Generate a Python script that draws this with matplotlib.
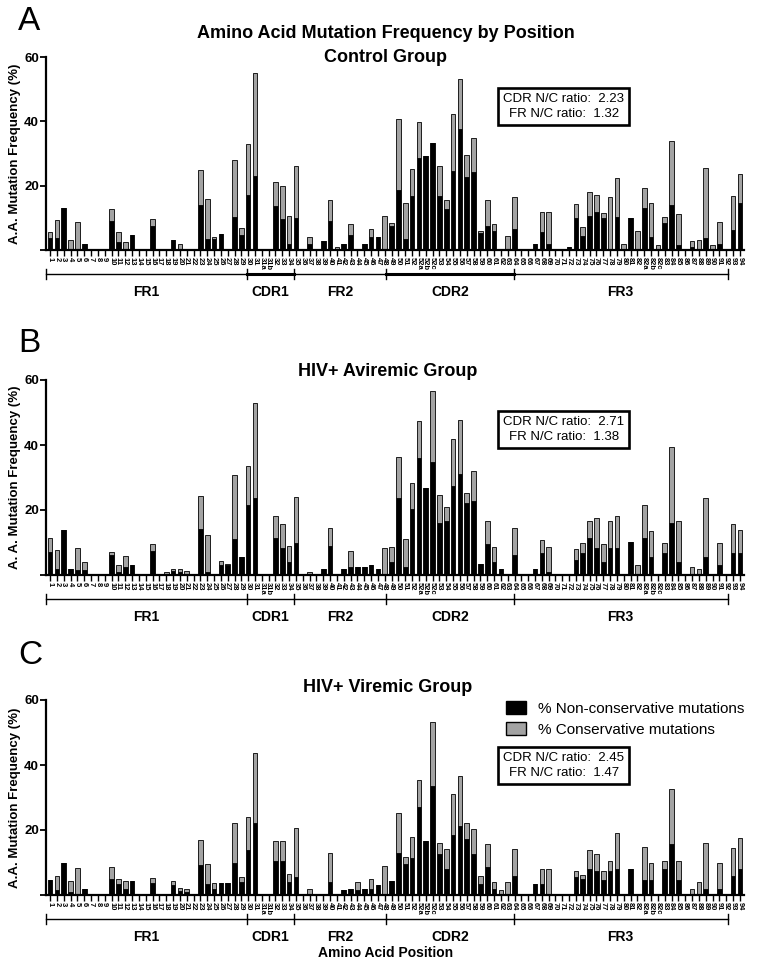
import matplotlib
matplotlib.use("Agg")
import matplotlib.pyplot as plt
from matplotlib.patches import Patch
from matplotlib.transforms import blended_transform_factory
import numpy as np

plt.rcParams['font.family'] = ['Liberation Sans', 'DejaVu Sans']

W, H = 759, 969

# Kabat positions along the x axis
positions = ([str(i) for i in range(1, 32)] + ['31a', '31b']
	+ [str(i) for i in range(32, 53)] + ['52a', '52b', '52c']
	+ [str(i) for i in range(53, 83)] + ['82a', '82b', '82c']
	+ [str(i) for i in range(83, 95)])

regions = ['FR1', 'CDR1', 'FR2', 'CDR2', 'FR3']

# % non-conservative (black) and % conservative (grey) mutations
control_nc = [3.6, 3.8, 13.2, 0, 0, 2.0, 0, 0, 0, 9.1,
	2.6, 0, 4.6, 0, 0, 7.6, 0, 0, 3.0, 0,
	0, 0, 14.0, 3.3, 3.3, 5.0, 0, 10.4, 4.7, 17.0,
	23.0, 0, 0, 13.6, 9.7, 1.8, 10.0, 0, 1.8, 0,
	2.9, 9.0, 0, 2.0, 4.7, 0, 1.8, 3.9, 3.9, 0,
	7.4, 18.7, 3.4, 16.8, 28.7, 29.1, 33.2, 16.8, 12.6, 24.6,
	37.6, 22.8, 24.3, 5.2, 7.4, 6.0, 0, 0, 6.6, 0,
	0, 1.9, 5.6, 1.9, 0, 0, 1.0, 10.0, 4.2, 10.7,
	11.9, 9.9, 0, 10.4, 0, 9.9, 0, 13.0, 4.0, 0,
	8.4, 13.9, 1.7, 0, 0.9, 0, 3.8, 0, 2.0, 0,
	6.1, 14.5]
control_c = [2.1, 5.5, 0, 3.0, 8.6, 0, 0, 0, 0, 3.5,
	2.9, 2.6, 0, 0, 0, 2.0, 0, 0, 0, 2.0,
	0, 0, 11.0, 12.7, 0.7, 0, 0, 17.6, 2.0, 16.0,
	32.0, 0, 0, 7.6, 10.2, 8.7, 16.0, 0, 2.1, 0,
	0, 6.4, 1.0, 0, 3.5, 0, 0, 2.7, 0, 10.5,
	0.9, 22.1, 11.2, 8.5, 11.1, 0, 0, 9.2, 2.8, 17.7,
	15.5, 6.8, 10.5, 0.7, 8.2, 2.0, 0, 4.5, 9.9, 0,
	0, 0, 6.1, 9.8, 0, 0, 0, 4.2, 2.8, 7.4,
	5.2, 1.6, 16.5, 11.9, 2.0, 0, 5.8, 6.3, 10.7, 1.6,
	2.0, 20.0, 9.5, 0, 1.9, 3.1, 21.6, 1.7, 6.6, 0,
	10.7, 9.0]

aviremic_nc = [7.0, 2.0, 13.7, 2.0, 1.5, 1.5, 0, 0, 0, 6.2,
	1.0, 2.5, 3.0, 0, 0, 7.5, 0, 0, 1.2, 1.0,
	0, 0, 14.1, 1.0, 0, 3.0, 3.2, 11.1, 5.5, 21.4,
	23.8, 0, 0, 11.5, 8.4, 4.0, 9.7, 0, 0, 0,
	1.7, 8.9, 0, 2.0, 2.5, 2.5, 2.5, 3.0, 2.0, 0,
	4.0, 23.8, 2.5, 20.2, 35.9, 26.7, 34.9, 16.1, 16.6, 27.5,
	31.1, 22.3, 22.8, 3.5, 9.4, 4.0, 2.0, 0, 6.2, 0,
	0, 2.0, 6.7, 1.0, 0, 0, 0, 4.5, 6.7, 11.5,
	8.2, 4.0, 8.2, 8.4, 0, 10.3, 0, 11.5, 5.6, 0,
	6.7, 16.1, 4.0, 0, 0, 0, 5.4, 0, 3.0, 0,
	6.7, 6.9]
aviremic_c = [4.5, 5.7, 0, 0, 6.7, 2.5, 0, 0, 0, 1.0,
	2.0, 3.3, 0, 0, 0, 2.1, 0, 1.0, 0.8, 0.8,
	1.3, 0, 10.2, 11.3, 0, 1.3, 0.3, 19.6, 0, 12.1,
	29.2, 0, 0, 6.7, 7.2, 4.8, 14.2, 0, 1.0, 0,
	0, 5.5, 0, 0, 5.0, 0, 0, 0, 0, 8.2,
	4.7, 12.4, 8.6, 8.2, 11.5, 0, 21.7, 8.5, 4.4, 14.4,
	16.6, 3.0, 9.3, 0, 7.2, 4.7, 0, 0, 8.4, 0,
	0, 0, 4.1, 7.7, 0, 0, 0, 3.4, 3.0, 5.1,
	9.2, 5.4, 8.4, 9.8, 0, 0, 3.0, 10.0, 7.9, 0,
	3.0, 23.2, 12.6, 0, 2.5, 2.0, 18.2, 0, 7.0, 0,
	9.0, 6.9]

viremic_nc = [4.5, 1.5, 9.7, 1.0, 0, 2.0, 0, 0, 0, 5.0,
	3.5, 2.0, 4.3, 0, 0, 3.8, 0, 0, 3.0, 1.2,
	1.0, 0, 9.3, 3.5, 1.9, 3.7, 3.7, 10.0, 4.0, 13.8,
	22.1, 0, 0, 10.5, 10.5, 4.0, 5.5, 0, 0, 0,
	0, 4.0, 0, 1.5, 1.8, 1.5, 2.0, 2.0, 3.0, 0,
	4.3, 12.8, 9.5, 11.3, 27.0, 16.7, 33.5, 12.6, 8.0, 18.5,
	21.3, 17.1, 12.6, 3.5, 8.5, 2.0, 0, 0, 6.0, 0,
	0, 3.5, 3.5, 0, 0, 0, 0, 5.5, 5.0, 8.0,
	7.5, 4.5, 7.5, 8.0, 0, 7.9, 0, 4.5, 4.5, 0,
	8.0, 15.6, 4.5, 0, 0, 0, 2.0, 0, 2.0, 0,
	6.0, 8.0]
viremic_c = [0, 4.5, 0, 3.3, 8.2, 0, 0, 0, 0, 3.5,
	1.5, 2.2, 0, 0, 0, 1.5, 0, 0, 1.4, 1.1,
	0.9, 0, 7.6, 5.9, 1.9, 0, 0, 12.3, 1.5, 10.3,
	21.5, 0, 0, 6.1, 6.1, 2.5, 15.2, 0, 2.0, 0,
	0, 8.8, 0, 0, 0, 2.4, 0, 2.8, 0, 9.0,
	0, 12.5, 2.1, 6.6, 8.4, 0, 19.8, 3.5, 6.1, 12.5,
	15.3, 5.0, 7.7, 2.5, 7.1, 2.0, 1.5, 4.0, 8.1, 0,
	0, 0, 4.4, 8.0, 0, 0, 0, 1.9, 1.2, 5.8,
	5.1, 3.0, 3.1, 11.2, 0, 0, 0, 10.2, 5.3, 0,
	2.5, 16.9, 6.0, 0, 2.0, 4.0, 14.1, 0, 7.9, 0,
	8.6, 9.6]

ratios = [("2.23", "1.32"), ("2.71", "1.38"), ("2.45", "1.47")]

# where the hand drawn region brackets start/end (in bar units)
edges = [-0.6, 28.8, 35.7, 49.2, 67.9, 99.2]

GREY = '#a3a3a3'
NARROW = ['Liberation Sans Narrow', 'Liberation Sans', 'DejaVu Sans']


def fx(px):
	return px / W


def fy(py):
	return 1 - py / H


# draw one panel: base/top are pixel rows of y=0 and y=60
def panel(base, top, nc, cons, ylabel, ratio, box_y, thick_cdr):
	hpx = base - top
	ax = fig.add_axes([fx(46), fy(base), 698 / W, hpx / H])
	x = np.arange(len(positions))
	nc = np.array(nc)
	cons = np.array(cons)
	ax.bar(x, nc, width=0.68, color='black', edgecolor='black',
		linewidth=0.6)
	ax.bar(x, cons, bottom=nc, width=0.68, color=GREY,
		edgecolor='black', linewidth=0.6)

	ax.set_xlim(-0.6, 101.6)
	ax.set_ylim(0, 60)
	for s in ['top', 'right']:
		ax.spines[s].set_visible(False)
	for s in ['left', 'bottom']:
		ax.spines[s].set_linewidth(1.6)

	ax.set_yticks([0, 20, 40, 60])
	ax.set_yticklabels(['', '20', '40', '60'], fontsize=9.5,
		fontweight='bold')
	ax.tick_params(axis='y', length=4, width=1.3, pad=1)
	ax.set_xticks(x)
	ax.set_xticklabels(positions, rotation=-90, fontsize=5.4,
		fontweight='bold', family=NARROW)
	ax.tick_params(axis='x', length=4, width=1.0, pad=1)
	ax.set_ylabel(ylabel, fontsize=9.5, fontweight='bold', labelpad=2)

	# region brackets under the axis
	tr = blended_transform_factory(ax.transData, ax.transAxes)
	yb = -24 / hpx
	dy = 5 / hpx
	for k, name in enumerate(regions):
		x0, x1 = edges[k], edges[k + 1]
		lw = 1.0
		if thick_cdr and name.startswith('CDR'):
			lw = 2.2
		ax.plot([x0, x1], [yb, yb], color='black', lw=lw,
			transform=tr, clip_on=False)
		ax.text((x0 + x1) / 2, -42 / hpx, name, transform=tr,
			ha='center', va='center', fontsize=10,
			fontweight='bold')
	for e in edges:
		ax.plot([e, e], [yb - dy, yb + dy], color='black', lw=1.0,
			transform=tr, clip_on=False)

	ax.text(0.742, box_y, "CDR N/C ratio:  " + ratio[0] +
		"\nFR N/C ratio:  " + ratio[1], transform=ax.transAxes,
		ha='center', va='center', multialignment='center',
		fontsize=9.5, linespacing=1.3,
		bbox=dict(boxstyle='square,pad=0.38', facecolor='white',
			edgecolor='black', linewidth=1.9))
	return ax


fig = plt.figure(figsize=(W / 100, H / 100), dpi=100)

axA = panel(250, 57, control_nc, control_c,
	"A.A. Mutation Frequency (%)", ratios[0], 0.745, True)
axB = panel(575, 380, aviremic_nc, aviremic_c,
	"A. A. Mutation Frequency (%)", ratios[1], 0.745, False)
axC = panel(895, 700, viremic_nc, viremic_c,
	"A.A. Mutation Frequency (%)", ratios[2], 0.665, False)

# panel letters and titles
fig.text(fx(18), fy(22), "A", fontsize=24, va='center', ha='left')
fig.text(fx(18), fy(343), "B", fontsize=24, va='center', ha='left')
fig.text(fx(18), fy(655), "C", fontsize=24, va='center', ha='left')

fig.text(fx(386), fy(34), "Amino Acid Mutation Frequency by Position",
	fontsize=13, fontweight='bold', ha='center', va='center')
fig.text(fx(386), fy(57), "Control Group", fontsize=13,
	fontweight='bold', ha='center', va='center')
fig.text(fx(388), fy(372), "HIV+ Aviremic Group", fontsize=13,
	fontweight='bold', ha='center', va='center')
fig.text(fx(388), fy(687), "HIV+ Viremic Group", fontsize=13,
	fontweight='bold', ha='center', va='center')

fig.text(fx(386), fy(953), "Amino Acid Position", fontsize=10,
	fontweight='bold', ha='center', va='center')

handles = [Patch(facecolor='black', edgecolor='black',
		label='% Non-conservative mutations'),
	Patch(facecolor=GREY, edgecolor='black',
		label='% Conservative mutations')]
axC.legend(handles=handles, loc='upper left', bbox_to_anchor=(0.65, 1.025),
	frameon=False, fontsize=11, handlelength=1.3, handleheight=0.9,
	handletextpad=0.8, borderaxespad=0, labelspacing=0.4)

plt.savefig("out.png", dpi=100)
